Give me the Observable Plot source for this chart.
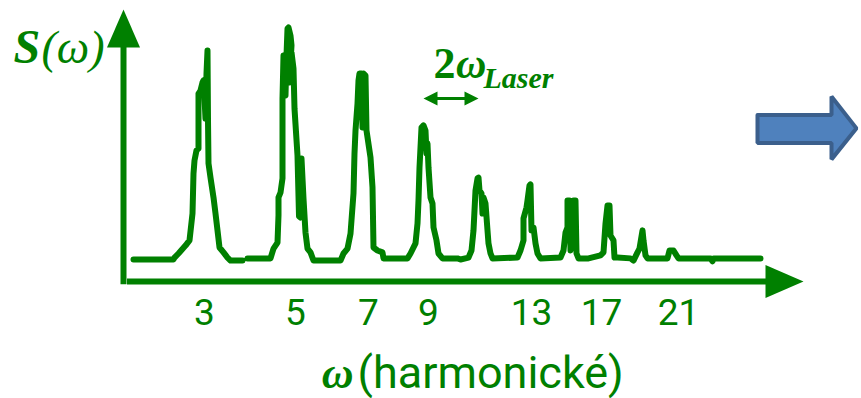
<!DOCTYPE html>
<html><head><meta charset="utf-8">
<script src="https://cdn.jsdelivr.net/npm/d3@7"></script>
<script src="https://cdn.jsdelivr.net/npm/@observablehq/plot@0.6"></script>
<style>
html,body{margin:0;padding:0;background:#fff;}
#chart{width:861px;height:398px;overflow:hidden;}
</style></head><body><div id="chart"></div>
<script>
// Spectrum trace S(ω): [position along ω axis, signal] (arbitrary units)
const spectrum = [
  [1.0,8.1],[5.0,8.1],[5.1,8.8],[5.5,10.3],[6.2,13.2],[6.6,15.1],[6.9,25.0],[7.0,39.7],[7.1,44.5],[7.3,48.2],
  [7.5,48.9],[7.5,60.3],[7.5,69.1],[7.7,70.2],[7.9,73.2],[8.0,73.9],[8.1,67.6],[8.2,59.9],[8.3,76.5],[8.4,84.9],
  [8.45,59.2],[8.5,43.4],[8.7,38.2],[9.0,30.9],[9.2,25.0],[9.4,18.8],[9.6,12.5],[10.0,10.7],[10.4,8.8],[10.7,7.7],
  [11.9,7.7],[12.1,null],
  [12.4,8.5],[14.7,8.5],[15.0,12.1],[15.4,14.3],[15.5,24.3],[15.5,30.9],[15.7,32.7],[15.9,37.9],[15.9,67.3],[16.0,83.1],
  [16.2,68.4],[16.3,83.1],[16.4,93.0],[16.5,93.4],[16.7,90.4],[16.8,86.8],[16.6,73.2],[16.8,84.2],[17.0,78.3],[17.1,63.6],
  [17.4,46.3],[17.55,24.0],[17.7,23.5],[17.8,45.2],[18.0,30.5],[18.2,18.0],[18.4,12.1],[18.7,10.7],[19.0,7.7],[21.7,7.7],
  [22.0,10.3],[22.4,12.1],[22.7,17.6],[23.0,32.4],[23.1,47.1],[23.2,55.5],[23.4,65.4],[23.5,73.9],[23.6,76.5],[23.8,76.5],
  [23.9,56.6],[24.0,76.5],[24.2,75.7],[24.3,55.5],[24.7,45.6],[24.9,34.6],[25.0,12.5],[25.4,11.4],[25.9,10.7],[26.0,8.5],
  [28.4,8.5],[28.7,10.3],[29.2,14.0],[29.4,21.3],[29.5,29.8],[29.6,41.9],[29.8,56.6],[30.0,57.4],[30.2,55.5],[30.3,47.1],
  [30.4,50.7],[30.5,41.9],[30.7,30.9],[30.9,28.7],[31.0,19.9],[31.3,15.1],[31.5,10.3],[31.9,8.5],[33.4,8.5],[33.7,8.1],
  [34.5,8.8],[34.8,11.4],[35.0,18.8],[35.1,26.1],[35.2,33.5],[35.4,37.9],[35.5,38.2],[35.6,33.5],[35.8,32.4],[35.9,25.0],
  [36.0,30.9],[36.2,28.7],[36.4,18.8],[36.5,14.0],[36.7,10.3],[36.9,8.5],[39.4,8.8],[39.7,11.4],[40.0,15.1],[40.0,23.2],
  [40.3,27.2],[40.4,29.8],[40.6,35.3],[40.7,35.7],[40.8,18.8],[41.0,19.9],[41.2,14.0],[41.4,10.3],[41.7,8.5],[43.7,8.8],
  [44.0,11.4],[44.2,18.0],[44.4,19.9],[44.4,29.8],[44.6,29.8],[44.7,11.4],[44.9,15.1],[45.0,29.8],[45.2,29.8],[45.3,10.3],
  [45.5,8.5],[46.5,8.5],[47.7,9.6],[48.0,10.7],[48.2,21.3],[48.4,27.9],[48.6,27.9],[48.7,16.9],[49.0,15.1],[49.1,8.8],
  [49.4,8.8],[50.7,8.5],[51.0,7.7],[51.4,10.7],[51.6,12.1],[51.9,18.8],[52.0,15.1],[52.2,9.6],[52.4,8.5],[54.4,8.5],
  [54.6,11.4],[55.0,11.4],[55.3,9.6],[55.5,8.5],[58.7,8.5],[58.9,7.4],[59.0,8.5],[63.7,8.5]
];

// Harmonic order tick labels and their positions on the ω axis
const tickPos = [8.1, 17.2, 24.5, 30.5, 40.8, 47.8, 55.5];
const tickLabels = ["3", "5", "7", "9", "13", "17", "21"];

// 2ω_Laser spacing: from harmonic 9 to harmonic 11 peak
const laserSpan = [30.0, 35.5];

// Texts
const yLabelMain = "S";
const yLabelArg = "(ω)";
const xLabelSym = "ω";
const xLabelText = "(harmonické)";
const spanLabelTwo = "2";
const spanLabelOmega = "ω";
const spanLabelSub = "Laser";

// Outline of the blue block arrow (decoration at right)
const blockArrowX = [63.4, 70.8, 70.8, 73.3, 70.8, 70.8, 63.4, 63.4];
const blockArrowY = [61.2, 61.2, 68.0, 56.3, 44.9, 50.9, 50.9, 61.2];

const green = "#008000";
const data = spectrum.map(([x, y]) => ({x, y}));
const blockArrow = blockArrowX.map((x, i) => ({x, y: blockArrowY[i]}));

// filled triangular arrow heads (tip at origin, pointing up)
const bigHead = {draw(ctx) { ctx.moveTo(0, 0); ctx.lineTo(16.5, 38); ctx.lineTo(-16.5, 38); ctx.closePath(); }};
const smallHead = {draw(ctx) { ctx.moveTo(0, 0); ctx.lineTo(7, 14); ctx.lineTo(-7, 14); ctx.closePath(); }};

const serif = "'Liberation Serif', 'Times New Roman', serif";
const sans = "Roboto, 'Open Sans', sans-serif";

const chart = Plot.plot({
  width: 861, height: 398,
  marginLeft: 123, marginRight: 58, marginTop: 9, marginBottom: 117,
  x: {domain: [0, 68]},
  y: {domain: [0, 100], axis: null},
  style: {background: "white"},
  marks: [
    // block arrow
    Plot.line(blockArrow, {x: "x", y: "y", fill: "#4f81bd", stroke: "#3b5f8c", strokeWidth: 4, strokeLinejoin: "miter"}),
    // axes lines
    Plot.ruleX([0], {y1: -1.2, y2: 90, stroke: green, strokeWidth: 6}),
    Plot.ruleY([0], {x1: 0.4, x2: 65, stroke: green, strokeWidth: 6}),
    Plot.dot([{x: 0, y: 100}], {x: "x", y: "y", symbol: bigHead, fill: green, stroke: "none", r: 10}),
    Plot.dot([{x: 68, y: 0}], {x: "x", y: "y", symbol: bigHead, rotate: 90, fill: green, stroke: "none", r: 10}),
    // spectrum
    Plot.line(data, {x: "x", y: "y", stroke: green, strokeWidth: 6, strokeLinejoin: "round", strokeLinecap: "round"}),
    // x axis tick labels
    Plot.axisX(tickPos, {tickSize: 0, tickPadding: 17, tickFormat: d => tickLabels[tickPos.indexOf(d)],
      fontSize: 37, fontFamily: sans, color: green, fill: green, label: null}),
    // 2ω_Laser double arrow
    Plot.ruleY([67.3], {x1: laserSpan[0] + 0.8, x2: laserSpan[1] - 0.8, stroke: green, strokeWidth: 3}),
    Plot.dot([{x: laserSpan[0], y: 67.3}], {x: "x", y: "y", symbol: smallHead, rotate: -90, fill: green, stroke: "none", r: 5}),
    Plot.dot([{x: laserSpan[1], y: 67.3}], {x: "x", y: "y", symbol: smallHead, rotate: 90, fill: green, stroke: "none", r: 5}),
    Plot.text([spanLabelTwo], {x: 31.0, y: 75.0, text: d => d, textAnchor: "start", lineAnchor: "bottom",
      fontFamily: serif, fontWeight: "bold", fontSize: 44, fill: green}),
    Plot.text([spanLabelOmega], {x: 33.25, y: 75.0, text: d => d, textAnchor: "start", lineAnchor: "bottom",
      fontFamily: serif, fontWeight: "bold", fontStyle: "italic", fontSize: 42, fill: green}),
    Plot.text([spanLabelSub], {x: 36.0, y: 71.3, text: d => d, textAnchor: "start", lineAnchor: "bottom",
      fontFamily: serif, fontWeight: "bold", fontStyle: "italic", fontSize: 30, fill: green}),
    // y label S(ω)
    Plot.text([yLabelMain], {x: -11.0, y: 80.5, text: d => d, textAnchor: "start", lineAnchor: "bottom",
      fontFamily: serif, fontWeight: "bold", fontStyle: "italic", fontSize: 48, fill: green}),
    Plot.text([yLabelArg], {x: -8.2, y: 80.5, text: d => d, textAnchor: "start", lineAnchor: "bottom",
      fontFamily: serif, fontStyle: "italic", fontSize: 46, fill: green}),
    // x label ω (harmonické)
    Plot.text([xLabelSym], {x: 23.0, y: -39.3, text: d => d, textAnchor: "end", lineAnchor: "bottom",
      fontFamily: serif, fontWeight: "bold", fontStyle: "italic", fontSize: 44, fill: green}),
    Plot.text([xLabelText], {x: 23.4, y: -39.3, text: d => d, textAnchor: "start", lineAnchor: "bottom",
      fontFamily: sans, fontSize: 45, fill: green})
  ]
});
document.getElementById("chart").appendChild(chart);
</script>
</body></html>
